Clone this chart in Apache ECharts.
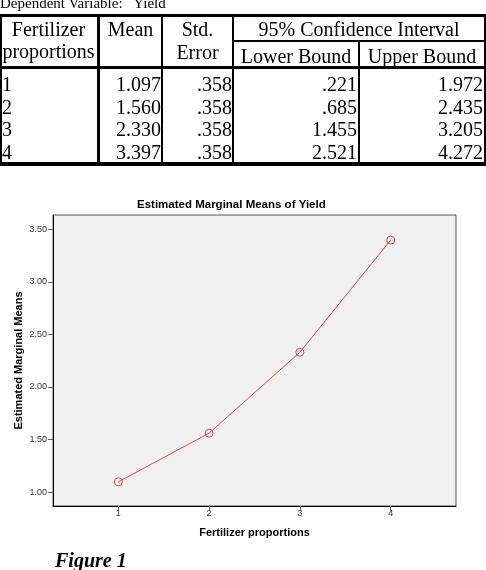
<!DOCTYPE html>
<html>
<head>
<meta charset="utf-8">
<title>Estimated Marginal Means of Yield</title>
<script src="https://cdn.jsdelivr.net/npm/echarts@6/dist/echarts.min.js"></script>
<style>
  html, body { margin: 0; padding: 0; background: #fff; }
  #page { position: relative; width: 486px; height: 570px; overflow: hidden;
          font-family: "Liberation Serif", "Times New Roman", serif; }
  #chart { position: absolute; left: 0; top: 0; width: 486px; height: 570px; }
  .t { position: absolute; white-space: nowrap; font-size: 20px; line-height: 20px; color: #000; }
  .ln { position: absolute; background: #000; }
</style>
</head>
<body>
<div id="page">
  <div id="chart"></div>
  <div id="table"></div>
  <div class="t" style="left:55px; top:550px; font-weight:bold; font-style:italic;">Figure 1</div>
</div>
<script>
// data
var categories = [1, 2, 3, 4];
var meanValues = [1.097, 1.560, 2.330, 3.397];
var stdErrors = [0.358, 0.358, 0.358, 0.358];
var lowerBounds = [0.221, 0.685, 1.455, 2.521];
var upperBounds = [1.972, 2.435, 3.205, 4.272];
var yTicks = [1.00, 1.50, 2.00, 2.50, 3.00, 3.50];

;(function(window){
    var box = document.getElementById('table');

    // spss style: .358 not 0.358
    function fmt(v){
        return v.toFixed(3).replace(/^0\./, '.');
    }
    // text placed by baseline, inside [x0, x1]
    function text(str, x0, x1, baseline, align, size){
        size = size || 20;
        var d = document.createElement('div');
        d.className = 't';
        d.textContent = str;
        d.style.fontSize = size + 'px';
        d.style.lineHeight = size + 'px';
        d.style.left = x0 + 'px';
        d.style.width = (x1 - x0) + 'px';
        d.style.textAlign = align;
        d.style.top = (baseline - size * 0.8375) + 'px';
        box.appendChild(d);
        return d;
    }
    function line(x, y, w, h){
        var d = document.createElement('div');
        d.className = 'ln';
        d.style.left = x + 'px';
        d.style.top = y + 'px';
        d.style.width = w + 'px';
        d.style.height = h + 'px';
        box.appendChild(d);
    }

    text('Dependent Variable:   Yield', 0, 300, 8.5, 'left', 15).style.whiteSpace = 'pre';

    // header
    text('Fertilizer', 0, 97, 35.7, 'center');
    text('proportions', 0, 97, 58, 'center');
    text('Mean', 100, 161, 35.7, 'center');
    text('Std.', 163, 232, 35.7, 'center');
    text('Error', 163, 232, 58.5, 'center');
    text('95% Confidence Interval', 234, 484, 35.7, 'center');
    text('Lower Bound', 234, 358, 62.5, 'center');
    text('Upper Bound', 360, 484, 62.5, 'center');

    // rows
    for (var i = 0; i < categories.length; i++) {
        var b = 90.7 + i * 22.6;
        text(String(categories[i]), 2, 96, b, 'left');
        text(fmt(meanValues[i]), 100, 161, b, 'right');
        text(fmt(stdErrors[i]), 163, 232, b, 'right');
        text(fmt(lowerBounds[i]), 234, 357, b, 'right');
        text(fmt(upperBounds[i]), 360, 483, b, 'right');
    }

    // rules
    line(0, 14, 486, 3);
    line(0, 66, 486, 3);
    line(0, 162, 486, 4);
    line(232, 40, 254, 2);
    line(0, 14, 2, 152);
    line(97, 14, 3, 152);
    line(161, 14, 2, 152);
    line(232, 14, 2, 152);
    line(358, 40, 2, 126);
    line(484, 14, 2, 152);

    var red = '#e0464e';
    var sans = '"Liberation Sans", Arial, sans-serif';
    var chart = window.echarts.init(document.getElementById('chart'));
    chart.setOption({
        backgroundColor: 'transparent',
        animation: false,
        title: {
            text: 'Estimated Marginal Means of Yield',
            left: 137,
            top: 199,
            padding: 0,
            textStyle: { fontFamily: sans, fontSize: 11.5, fontWeight: 'bold', color: '#000' }
        },
        grid: {
            left: 53, top: 215, width: 403, height: 291,
            show: true, backgroundColor: '#f0f0f0', borderColor: '#555', borderWidth: 1
        },
        xAxis: {
            type: 'value',
            min: 0.28,
            max: 4.72,
            name: 'Fertilizer proportions',
            nameLocation: 'middle',
            nameGap: 21,
            nameMoveOverlap: false,
            nameTextStyle: { fontFamily: sans, fontSize: 11, fontWeight: 'bold', color: '#000' },
            axisLine: { lineStyle: { color: '#000', width: 1 } },
            axisTick: { customValues: categories, length: 5, lineStyle: { color: '#666' } },
            axisLabel: { customValues: categories, margin: 3, fontFamily: sans, fontSize: 9, color: '#333' },
            splitLine: { show: false }
        },
        yAxis: {
            type: 'value',
            min: 0.867,
            max: 3.636,
            name: 'Estimated Marginal Means',
            nameLocation: 'middle',
            nameGap: 29,
            nameMoveOverlap: false,
            nameTextStyle: { fontFamily: sans, fontSize: 11, fontWeight: 'bold', color: '#000' },
            axisLine: { show: true, lineStyle: { color: '#000', width: 1 } },
            axisTick: { show: true, customValues: yTicks, length: 5, lineStyle: { color: '#666' } },
            axisLabel: {
                customValues: yTicks, margin: 6, fontFamily: sans, fontSize: 9, color: '#333',
                formatter: function(v){ return v.toFixed(2); }
            },
            splitLine: { show: false }
        },
        series: [{
            type: 'line',
            data: categories.map(function(c, i){ return [c, meanValues[i]]; }),
            symbol: 'circle',
            symbolSize: 8,
            itemStyle: { color: 'rgba(0,0,0,0)', borderColor: red, borderWidth: 1 },
            lineStyle: { color: red, width: 1 }
        }]
    });
})(window);
</script>
</body>
</html>
